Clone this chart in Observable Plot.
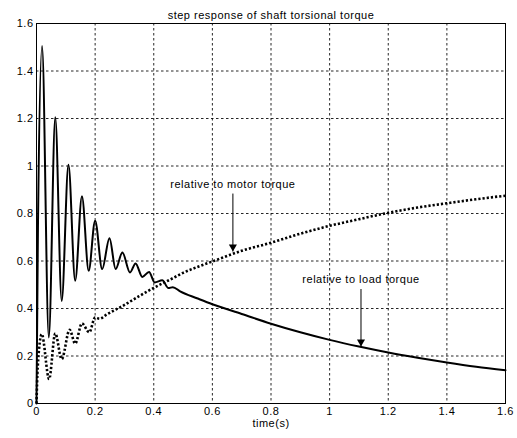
<!DOCTYPE html>
<html><head><meta charset="utf-8">
<script src="https://cdn.jsdelivr.net/npm/d3@7"></script>
<script src="https://cdn.jsdelivr.net/npm/@observablehq/plot@0.6"></script>
<style>
body{margin:0;background:#fff;}
#chart svg{font-family:"Liberation Sans",Arial,Helvetica,sans-serif;}
</style></head><body><div id="chart"></div>
<script>
const title = "step response of shaft torsional torque";
const xLabel = "time(s)";
const xTicks = [0, 0.2, 0.4, 0.6, 0.8, 1, 1.2, 1.4, 1.6];
const xTickLabels = ["0", "0.2", "0.4", "0.6", "0.8", "1", "1.2", "1.4", "1.6"];
const yTicks = [0, 0.2, 0.4, 0.6, 0.8, 1, 1.2, 1.4, 1.6];
const yTickLabels = ["0", "0.2", "0.4", "0.6", "0.8", "1", "1.2", "1.4", "1.6"];

// relative to load torque (solid)
const loadT = [0, 0.005, 0.019, 0.042, 0.064, 0.086, 0.109, 0.132, 0.155, 0.178, 0.200, 0.224, 0.249, 0.270, 0.293, 0.319, 0.338, 0.361, 0.384, 0.403, 0.429, 0.450, 0.465, 0.490, 0.55, 0.6, 0.7, 0.8, 0.9, 1.0, 1.1, 1.2, 1.3, 1.4, 1.5, 1.6];
const loadV = [0, 0.75, 1.505, 0.278, 1.205, 0.432, 1.005, 0.517, 0.873, 0.559, 0.770, 0.566, 0.696, 0.566, 0.636, 0.552, 0.590, 0.533, 0.554, 0.510, 0.519, 0.486, 0.490, 0.472, 0.442, 0.418, 0.377, 0.336, 0.300, 0.268, 0.240, 0.215, 0.193, 0.173, 0.155, 0.140];

// relative to motor torque (dotted)
const motorT = [0, 0.004, 0.018, 0.043, 0.064, 0.086, 0.113, 0.132, 0.155, 0.180, 0.200, 0.215, 0.240, 0.3, 0.35, 0.4, 0.45, 0.5, 0.6, 0.7, 0.8, 0.9, 1.0, 1.1, 1.2, 1.3, 1.4, 1.5, 1.6];
const motorV = [0, 0.15, 0.292, 0.103, 0.295, 0.187, 0.310, 0.252, 0.337, 0.300, 0.362, 0.357, 0.375, 0.415, 0.452, 0.487, 0.518, 0.550, 0.598, 0.643, 0.677, 0.715, 0.748, 0.776, 0.803, 0.825, 0.843, 0.860, 0.875];

// annotations
const annLabels = ["relative to motor torque", "relative to load torque"];
const annX = [0.67, 1.107];
const annTextY = [0.921, 0.521];
const annFromY = [0.884, 0.482];
const annToY = [0.640, 0.240];

const loadData = loadT.map((t, i) => ({t, v: loadV[i]}));
const motorData = motorT.map((t, i) => ({t, v: motorV[i]}));
const annData = annLabels.map((label, i) => ({label, x: annX[i], ty: annTextY[i], y1: annFromY[i], y2: annToY[i]}));
const fmt = (ticks, labels) => d => labels[ticks.findIndex(v => Math.abs(v - d) < 1e-9)];

const chart = Plot.plot({
  width: 517, height: 438,
  marginTop: 23, marginLeft: 36, marginRight: 12, marginBottom: 35,
  style: {fontSize: "11px", letterSpacing: "0.5px", fontFamily: "'Liberation Sans', Arial, Helvetica, sans-serif", background: "#fff", color: "#000"},
  x: {domain: [0, 1.6], ticks: xTicks, tickFormat: fmt(xTicks, xTickLabels), tickSize: 0, tickPadding: 4, label: xLabel, labelAnchor: "center", labelArrow: "none", labelOffset: 23},
  y: {domain: [0, 1.6], ticks: yTicks, tickFormat: fmt(yTicks, yTickLabels), tickSize: 0, tickPadding: 3, label: null},
  marks: [
    Plot.gridX(xTicks, {stroke: "#000", strokeOpacity: 0.85, strokeDasharray: "2.5,2.5"}),
    Plot.gridY(yTicks, {stroke: "#000", strokeOpacity: 0.85, strokeDasharray: "2.5,2.5"}),
    Plot.frame({stroke: "#000"}),
    Plot.line(loadData, {x: "t", y: "v", curve: "monotone-x", stroke: "#000", strokeWidth: 2}),
    Plot.line(motorData, {x: "t", y: "v", curve: "monotone-x", stroke: "#000", strokeWidth: 2.6, strokeDasharray: "2.2,2", strokeLinecap: "butt"}),
    Plot.link(annData, {x1: "x", y1: "y1", x2: "x", y2: "y2", stroke: "#000", strokeWidth: 1}),
    Plot.dot(annData, {x: "x", y: "y2", symbol: "triangle", rotate: 180, r: 3, dy: -4.7, fill: "#000", stroke: "none"}),
    Plot.text(annData, {x: "x", y: "ty", text: "label", fill: "#000"}),
    Plot.text([title], {frameAnchor: "top", dy: -12, text: d => d, fill: "#000"})
  ]
});
document.getElementById("chart").append(chart);
</script></body></html>
